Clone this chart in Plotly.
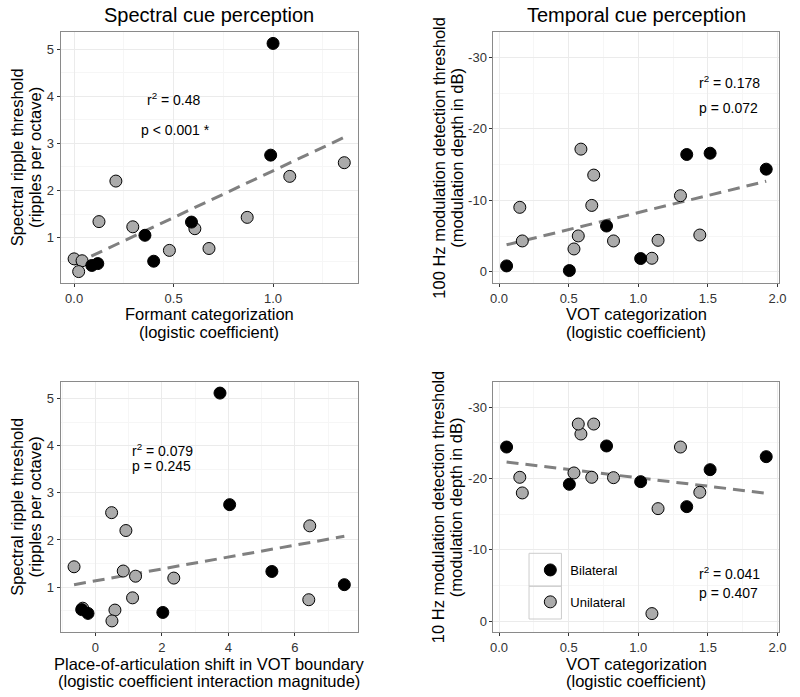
import numpy as np
import plotly.graph_objects as go

# ---------------- data ----------------
groups = ["Bilateral", "Unilateral"]

# Panel A: formant categorization vs spectral ripple threshold
formant_bi = [1.0, 0.988, 0.59, 0.356, 0.40, 0.089, 0.119]
ripple_bi_a = [5.12, 2.75, 1.33, 1.05, 0.50, 0.41, 0.45]
formant_uni = [0.0, 0.04, 0.023, 0.125, 0.21, 0.295, 0.479, 0.607, 0.678, 0.87, 1.084, 1.358]
ripple_uni_a = [0.55, 0.51, 0.28, 1.34, 2.20, 1.23, 0.73, 1.19, 0.77, 1.43, 2.30, 2.59]

# Panel C: place-of-articulation shift vs spectral ripple threshold
poa_bi = [3.75, 4.04, 5.31, 7.49, 2.03, -0.41, -0.22]
ripple_bi_c = [5.12, 2.75, 1.33, 1.05, 0.46, 0.52, 0.44]
poa_uni = [-0.64, 0.49, 0.92, 0.84, 1.21, 2.36, 1.12, 0.59, 0.50, 6.45, 6.42, -0.38]
ripple_uni_c = [1.43, 2.58, 2.20, 1.34, 1.23, 1.19, 0.77, 0.51, 0.28, 2.30, 0.73, 0.55]

# Panels B & D: VOT categorization vs modulation detection thresholds
vot_bi = [0.054, 0.505, 0.772, 1.017, 1.348, 1.516, 1.919]
am100_bi = [-0.84, -0.19, -6.42, -1.87, -16.42, -16.6, -14.37]
am10_bi = [-24.4, -19.18, -24.55, -19.55, -16.05, -21.23, -23.05]
vot_uni = [0.149, 0.167, 0.588, 0.680, 0.666, 0.569, 0.538, 0.822, 1.142, 1.098, 1.303, 1.442]
am100_uni = [-9.03, -4.33, -17.17, -13.54, -9.3, -5.03, -3.21, -4.33, -4.42, -1.91, -10.66, -5.16]
am10_uni = [-20.16, -17.97, -26.22, -27.62, -20.16, -27.62, -20.77, -20.11, -15.77, -1.07, -24.4, -18.06]

# statistics labels
stats_a = ["r<sup>2</sup> = 0.48", "p < 0.001 *"]
stats_b = ["r<sup>2</sup> = 0.178", "p = 0.072"]
stats_c = ["r<sup>2</sup> = 0.079", "p = 0.245"]
stats_d = ["r<sup>2</sup> = 0.041", "p = 0.407"]

# tick labels
ticks_formant = [0.0, 0.5, 1.0]
ticklabels_formant = ["0.0", "0.5", "1.0"]
ticks_vot = [0.0, 0.5, 1.0, 1.5, 2.0]
ticklabels_vot = ["0.0", "0.5", "1.0", "1.5", "2.0"]
ticks_poa = [0, 2, 4, 6]
ticklabels_poa = ["0", "2", "4", "6"]
ticks_ripple = [1, 2, 3, 4, 5]
ticklabels_ripple = ["1", "2", "3", "4", "5"]
ticks_am = [0, -10, -20, -30]
ticklabels_am = ["0", "-10", "-20", "-30"]

titles = ["Spectral cue perception", "Temporal cue perception"]
xtitles = [["Formant categorization", "(logistic coefficient)"],
           ["VOT categorization", "(logistic coefficient)"],
           ["Place-of-articulation shift in VOT boundary", "(logistic coefficient interaction magnitude)"],
           ["VOT categorization", "(logistic coefficient)"]]
ytitles = [["Spectral ripple threshold", "(ripples per octave)"],
           ["100 Hz modulation detection threshold", "(modulation depth in dB)"],
           ["Spectral ripple threshold", "(ripples per octave)"],
           ["10 Hz modulation detection threshold", "(modulation depth in dB)"]]

# ---------------- figure ----------------
W, H = 800, 697
FONT = "Liberation Sans, Arial, Helvetica, sans-serif"
fig = go.Figure()

panels = [
    (formant_bi, ripple_bi_a, formant_uni, ripple_uni_a),
    (vot_bi, am100_bi, vot_uni, am100_uni),
    (poa_bi, ripple_bi_c, poa_uni, ripple_uni_c),
    (vot_bi, am10_bi, vot_uni, am10_uni),
]

for i, (xb, yb, xu, yu) in enumerate(panels):
    ax = "" if i == 0 else str(i + 1)
    xr, yr = "x" + ax, "y" + ax
    xall = np.array(xb + xu, dtype=float)
    yall = np.array(yb + yu, dtype=float)
    slope, icpt = np.polyfit(xall, yall, 1)
    xs = np.array([xall.min(), xall.max()])
    fig.add_trace(go.Scatter(x=xs, y=icpt + slope * xs, mode="lines",
                             line=dict(color="#808080", width=3, dash="12px,7px"),
                             showlegend=False, hoverinfo="skip", xaxis=xr, yaxis=yr))
    fig.add_trace(go.Scatter(x=xu, y=yu, mode="markers", name=groups[1],
                             marker=dict(size=12, color="#ababab", line=dict(color="black", width=1)),
                             showlegend=(i == 0), legendgroup="uni", legendrank=2,
                             xaxis=xr, yaxis=yr))
    fig.add_trace(go.Scatter(x=xb, y=yb, mode="markers", name=groups[0],
                             marker=dict(size=12, color="black", line=dict(color="black", width=1)),
                             showlegend=(i == 0), legendgroup="bi", legendrank=1,
                             xaxis=xr, yaxis=yr))

def px_x(p):
    return p / W

def px_y(p):
    return 1 - p / H

# panel pixel boxes (left, right, top, bottom)
boxes = [(58.3, 359.3, 32.0, 283.0), (496.7, 786.0, 32.0, 283.0),
         (58.3, 359.3, 381.7, 632.3), (496.7, 786.0, 381.7, 632.3)]

xranges = [[-0.068, 1.426], [-0.04, 2.012], [-1.045, 7.895], [-0.04, 2.012]]
yranges = [[0.038, 5.362], [1.55, -33.55], [0.038, 5.362], [1.55, -33.55]]
xticks = [(ticks_formant, ticklabels_formant), (ticks_vot, ticklabels_vot),
          (ticks_poa, ticklabels_poa), (ticks_vot, ticklabels_vot)]
yticks = [(ticks_ripple, ticklabels_ripple), (ticks_am, ticklabels_am),
          (ticks_ripple, ticklabels_ripple), (ticks_am, ticklabels_am)]
xminor = [[0.25, 0.75, 1.25], [0.25, 0.75, 1.25, 1.75], [-1, 1, 3, 5, 7], [0.25, 0.75, 1.25, 1.75]]
yminor = [[0.5, 1.5, 2.5, 3.5, 4.5], [-5, -15, -25], [0.5, 1.5, 2.5, 3.5, 4.5], [-5, -15, -25]]

common = dict(showline=True, mirror=True, linecolor="#8a8a8a", linewidth=1,
              ticks="outside", ticklen=3, tickwidth=1, tickcolor="#333333",
              showgrid=True, gridcolor="#ebebeb", gridwidth=1, zeroline=False,
              tickfont=dict(family=FONT, size=13, color="#333333"))

layout = {}
for i in range(4):
    ax = "" if i == 0 else str(i + 1)
    l, r, t, b = boxes[i]
    layout["xaxis" + ax] = dict(common, domain=[px_x(l), px_x(r)], range=xranges[i],
                                anchor="y" + ax, tickmode="array",
                                tickvals=xticks[i][0], ticktext=xticks[i][1],
                                minor=dict(tickvals=xminor[i], showgrid=True,
                                           gridcolor="#f6f6f6", ticks=""))
    layout["yaxis" + ax] = dict(common, domain=[px_y(b), px_y(t)], range=yranges[i],
                                anchor="x" + ax, tickmode="array",
                                tickvals=yticks[i][0], ticktext=yticks[i][1],
                                minor=dict(tickvals=yminor[i], showgrid=True,
                                           gridcolor="#f6f6f6", ticks=""))

ann = []
# panel titles
for cx, txt in [((58.3 + 359.3) / 2, titles[0]), ((496.7 + 786.0) / 2, titles[1])]:
    ann.append(dict(text=txt, x=px_x(cx), y=px_y(15), xref="paper", yref="paper",
                    xanchor="center", yanchor="middle", showarrow=False,
                    font=dict(family=FONT, size=20, color="black")))
# axis titles
xt_y = [(314, 332), (314, 332), (664, 681), (664, 681)]
yt_x = [(14, 32), (440.7, 459), (14, 32), (440.7, 459)]
for i in range(4):
    l, r, t, b = boxes[i]
    for k in range(2):
        ann.append(dict(text=xtitles[i][k], x=px_x((l + r) / 2), y=px_y(xt_y[i][k]),
                        xref="paper", yref="paper", xanchor="center", yanchor="middle",
                        showarrow=False, font=dict(family=FONT, size=16.5, color="black")))
        ann.append(dict(text=ytitles[i][k], x=px_x(yt_x[i][k]), y=px_y((t + b) / 2),
                        xref="paper", yref="paper", xanchor="center", yanchor="middle",
                        textangle=-90, showarrow=False,
                        font=dict(family=FONT, size=16.5, color="black")))
# statistics annotations (data coordinates)
stat_pos = [
    ("x", "y", "center", [(0.50, 3.95), (0.51, 3.29)], stats_a),
    ("x2", "y2", "left", [(1.42, -26.6), (1.42, -22.9)], stats_b),
    ("x3", "y3", "left", [(1.03, 3.92), (1.03, 3.58)], stats_c),
    ("x4", "y4", "left", [(1.42, -6.8), (1.42, -3.9)], stats_d),
]
for xr, yr, anc, pos, txts in stat_pos:
    for (sx, sy), txt in zip(pos, txts):
        ann.append(dict(text=txt, x=sx, y=sy, xref=xr, yref=yr, xanchor=anc,
                        yanchor="middle", showarrow=False,
                        font=dict(family=FONT, size=14, color="black")))

# legend key boxes
shapes = []
for (y0, y1) in [(553.3, 586.2), (586.2, 619.0)]:
    shapes.append(dict(type="rect", xref="paper", yref="paper",
                       x0=px_x(532.7), x1=px_x(565.5), y0=px_y(y1), y1=px_y(y0),
                       line=dict(color="#cccccc", width=1), fillcolor="rgba(0,0,0,0)",
                       layer="above"))

fig.update_layout(
    width=W, height=H,
    margin=dict(l=0, r=0, t=0, b=0),
    paper_bgcolor="white", plot_bgcolor="white",
    font=dict(family=FONT, color="black"),
    annotations=ann, shapes=shapes,
    legend=dict(x=px_x(534), y=px_y(555), xanchor="left", yanchor="top",
                bgcolor="rgba(0,0,0,0)", borderwidth=0,
                traceorder="grouped", tracegroupgap=12,
                font=dict(family=FONT, size=13, color="black")),
    **layout,
)

fig.write_html("out.html",
               config={"displayModeBar": False},
               post_script="document.body.style.margin='0';document.body.style.padding='0';")
